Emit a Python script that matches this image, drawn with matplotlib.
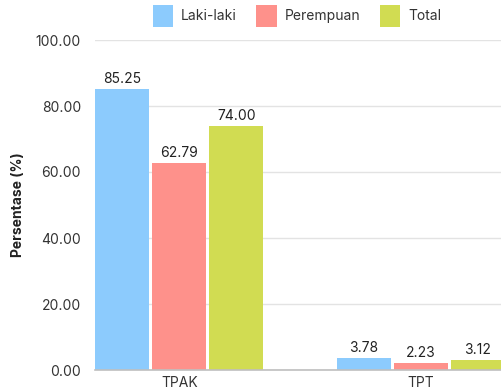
import matplotlib.pyplot as plt
import numpy as np

categories = ["TPAK", "TPT"]
series_names = ["Laki-laki", "Perempuan", "Total"]
laki = [85.25, 3.78]
perempuan = [62.79, 2.23]
total = [74.00, 3.12]
colors = ["#8ccbfd", "#fe918b", "#d1dc52"]
yticks = [0, 20, 40, 60, 80, 100]

plt.rcParams["font.family"] = ["Inter", "DejaVu Sans"]

fig = plt.figure(figsize=(5.01, 3.91), dpi=100)
W, H = 501, 391
ax = fig.add_axes([95 / W, 21 / H, 410 / W, 330 / H])

x = np.arange(len(categories))
width = 0.224
step = 0.2365
for i, (name, vals) in enumerate(zip(series_names, [laki, perempuan, total])):
    pos = x + (i - 1) * step
    bars = ax.bar(pos, vals, width=width, color=colors[i], label=name, zorder=2)
    for b, v in zip(bars, vals):
        ax.text(b.get_x() + b.get_width() / 2, v + 0.8, f"{v:.2f}",
                ha="center", va="bottom", fontsize=10, color="#222222")

ax.set_xlim(-0.35, 1.35)
ax.set_ylim(0, 100)
ax.set_yticks(yticks)
ax.set_yticklabels([f"{t:.2f}" for t in yticks])
ax.set_xticks(x)
ax.set_xticklabels(categories)
ax.tick_params(axis="both", length=0, labelsize=10, colors="#333333")
ax.tick_params(axis="y", pad=10)
ax.tick_params(axis="x", pad=4)
ax.grid(axis="y", color="#e3e3e3", linewidth=1, zorder=0)
for s in ["left", "right", "top"]:
    ax.spines[s].set_visible(False)
ax.spines["bottom"].set_color("#bfbfbf")
ax.spines["bottom"].set_linewidth(1.2)
ax.set_ylabel("Persentase (%)", fontsize=10, fontweight="bold", color="#222222")
ax.yaxis.set_label_coords(-70 / 410, 0.5)

fig.legend(loc="center", bbox_to_anchor=(297 / W, 1 - 16 / H), ncol=3,
           frameon=False, fontsize=10, handlelength=1.45, handleheight=2.0,
           columnspacing=1.4, handletextpad=0.6, labelcolor="#333333")

fig.savefig("out.png", dpi=100)
